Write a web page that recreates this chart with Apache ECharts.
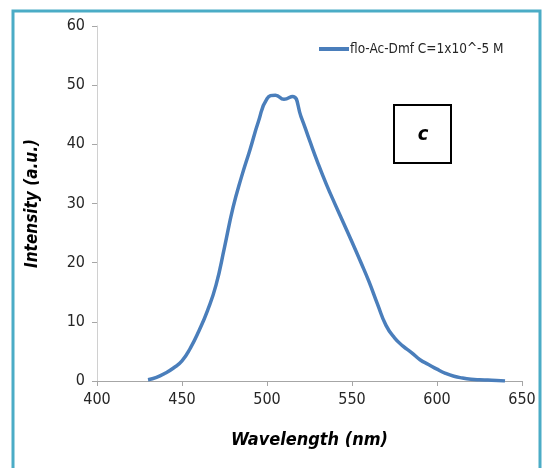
<!DOCTYPE html>
<html>
<head>
<meta charset="utf-8">
<script src="https://cdn.jsdelivr.net/npm/echarts@6/dist/echarts.min.js"></script>
<style>
html,body{margin:0;padding:0;background:#fff;}
#chart{width:543px;height:468px;}
</style>
</head>
<body>
<div id="chart"></div>
<script>
// Data
var wavelengths = [430,435,440,445,450,455,460,465,470,475,480,485,490,495,500,505,510,515,520,525,530,535,540,545,550,555,560,565,570,575,580,585,590,595,600,605,610,615,620,625,630,635,640];
var intensity   = [0.2,0.6,1.3,2.2,3.4,5.6,8.5,11.9,16.2,22.6,29.3,34.5,39.1,43.9,47.7,48.3,47.6,48.1,44.7,40.7,36.8,33.2,29.9,26.7,23.5,20.2,16.8,13.0,9.4,7.3,5.9,4.8,3.6,2.8,2.0,1.3,0.8,0.5,0.3,0.2,0.15,0.1,0.0];
var seriesName = 'flo-Ac-Dmf C=1x10^-5 M';
var xTicks = [400,450,500,550,600,650];
var yTicks = [0,10,20,30,40,50,60];
var xTitle = 'Wavelength (nm)';
var yTitle = 'Intensity (a.u.)';
var panelLabel = 'c';

var FONT = '"Liberation Sans Narrow","DejaVu Sans Condensed","Liberation Sans",sans-serif';
var chart = echarts.init(document.getElementById('chart'), null, {renderer:'canvas'});
var pts = wavelengths.map(function(w,i){return [w, intensity[i]];});
chart.setOption({
  animation:false,
  backgroundColor:'#ffffff',
  grid:{left:97,right:21,top:26,bottom:87,containLabel:false},
  legend:{
    data:[seriesName],
    left:314, top:37,
    icon:'rect', itemWidth:30, itemHeight:4, itemGap:4,
    textStyle:{fontFamily:FONT,fontSize:13.5,color:'#262626',padding:[0,0,0,-4]}
  },
  xAxis:{
    type:'value', min:xTicks[0], max:xTicks[xTicks.length-1], interval:50,
    name:xTitle, nameLocation:'middle', nameGap:50,
    nameTextStyle:{fontFamily:FONT,fontSize:18,fontWeight:'bold',fontStyle:'italic',color:'#000'},
    axisLine:{lineStyle:{color:'#a6a6a6',width:1}},
    axisTick:{show:true,length:5,lineStyle:{color:'#a6a6a6'}},
    axisLabel:{fontFamily:FONT,fontSize:16,color:'#262626',margin:11},
    splitLine:{show:false}
  },
  yAxis:{
    type:'value', min:yTicks[0], max:yTicks[yTicks.length-1], interval:10,
    name:yTitle, nameLocation:'middle', nameGap:56,
    nameTextStyle:{fontFamily:FONT,fontSize:17,fontWeight:'bold',fontStyle:'italic',color:'#000'},
    axisLine:{show:true,lineStyle:{color:'#d0d0d0',width:1}},
    axisTick:{show:true,length:5,lineStyle:{color:'#a6a6a6'}},
    axisLabel:{fontFamily:FONT,fontSize:16,color:'#262626',margin:12},
    splitLine:{show:false}
  },
  series:[{
    name:seriesName, type:'line', data:pts, smooth:0.5, showSymbol:false,
    lineStyle:{color:'#4a7ebb',width:3.5}, itemStyle:{color:'#4a7ebb'}
  }],
  graphic:[
    {type:'rect', shape:{x:13,y:11,width:527,height:480}, style:{fill:null,stroke:'#4bacc6',lineWidth:3}, z:100},
    {type:'rect', shape:{x:394,y:105,width:57,height:58}, style:{fill:'#fff',stroke:'#000',lineWidth:2}, z:100},
    {type:'text', x:423, y:135, style:{text:panelLabel, font:'italic bold 20px '+FONT, fill:'#000', textAlign:'center', textVerticalAlign:'middle'}, z:101}
  ]
});
</script>
</body>
</html>
